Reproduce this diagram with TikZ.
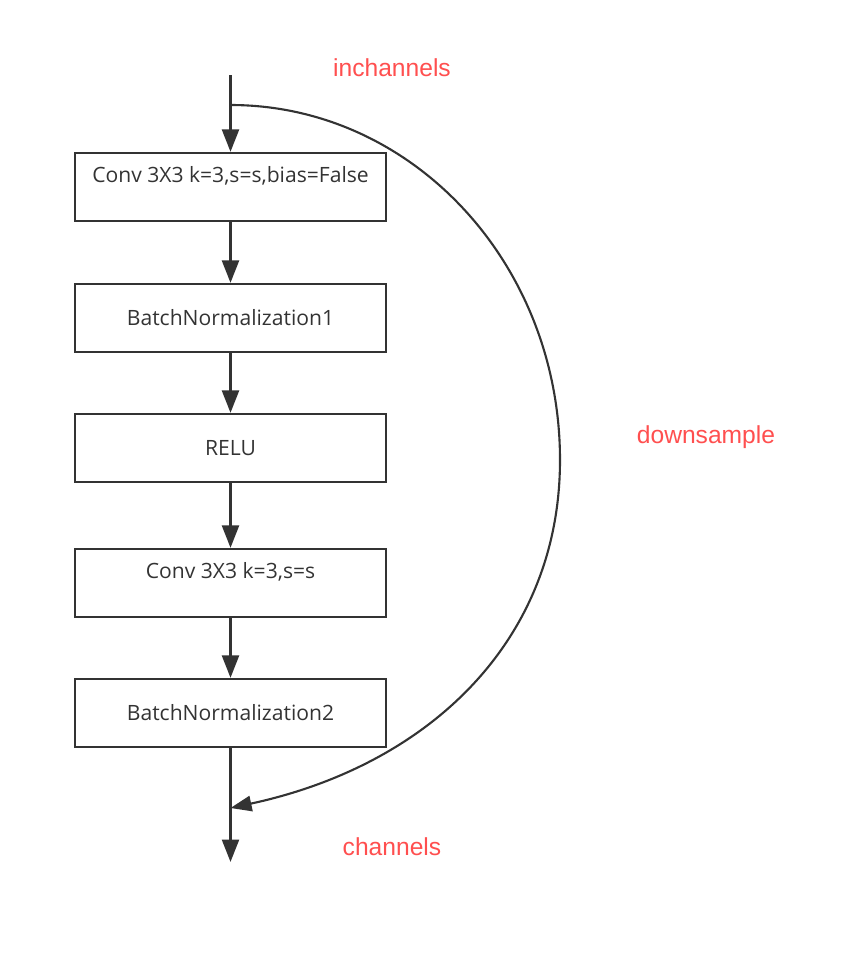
\documentclass[tikz,border=0pt]{standalone}
\usepackage{fontspec}
\setmainfont{Open Sans}
\newfontfamily\labelfont{Liberation Sans}
\usetikzlibrary{arrows.meta}
\definecolor{linegray}{HTML}{333333}
\definecolor{labelred}{HTML}{FF4F4F}
\tikzset{
  layerbox/.style={draw=linegray, line width=1.6pt, minimum width=7.775cm, minimum height=1.7cm,
    text=linegray, font=\fontsize{15}{17}\selectfont, inner sep=0pt},
  topbox/.style={layerbox, text height=10pt, text depth=17pt},
  flow/.style={draw=linegray, line width=2pt, -{Triangle[length=16pt, width=12pt]}},
  skip/.style={draw=linegray, line width=1.5pt, -{Triangle[length=15pt, width=11pt]}},
  redlabel/.style={text=labelred, font=\labelfont\fontsize{17.5}{20}\selectfont}
}
\begin{document}
\begin{tikzpicture}[x=0.025cm, y=-0.025cm]
        \useasboundingbox (0,0) rectangle (841,956);

        % Layers of the block
        \node[topbox] (conv1) at (230.5,187) {Conv 3X3 k=3,s=s,bias=False};
        \node[layerbox] (bn1) at (230.5,318) {BatchNormalization1};
        \node[layerbox] (relu) at (230.5,448) {RELU};
        \node[topbox] (conv2) at (230.5,583) {Conv 3X3 k=3,s=s};
        \node[layerbox] (bn2) at (230.5,713) {BatchNormalization2};

        % Input and output
        \coordinate (in) at (230.5,75);
        \coordinate (split) at (230.5,105);
        \coordinate (merge) at (230.5,808);
        \coordinate (out) at (230.5,862);
        \draw[flow] (in) -- (conv1);
        \draw[draw=linegray, line width=2pt] (bn2) -- (merge);
        \draw[flow] (merge) -- (out);

        % Arrows between layers
        \foreach \a/\b in {conv1/bn1, bn1/relu, relu/conv2, conv2/bn2}
            \draw[flow] (\a) -- (\b);

        % Shortcut (downsample)
        \draw[skip] (split) .. controls (413,105) and (560,264) .. (560,460)
                    .. controls (560,640) and (430,765) .. (merge);

        % Labels
        \node[redlabel] (inlabel) at (392,68) {inchannels};
        \node[redlabel] (dslabel) at (706,437) {downsample};
        \node[redlabel] (outlabel) at (392,847) {channels};
    \end{tikzpicture}
\end{document}
